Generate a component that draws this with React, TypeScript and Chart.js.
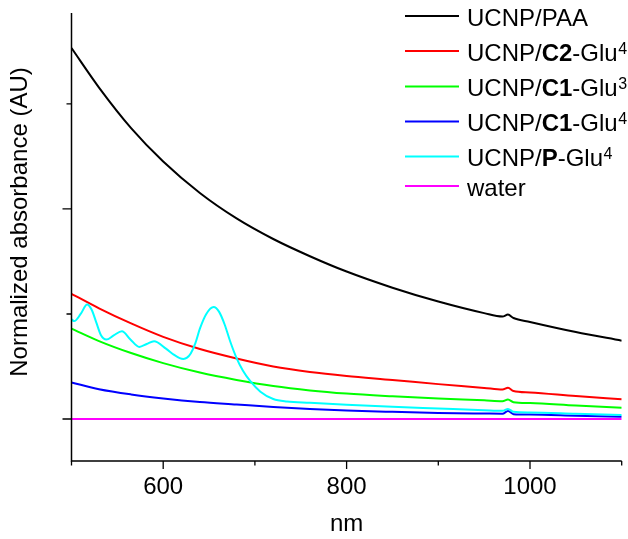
import React, { useEffect, useRef } from "react";
import { Chart, registerables } from "chart.js";

Chart.register(...registerables);

const FONT = '"Liberation Sans", Arial, Helvetica, sans-serif';

// ---- data ----
const smoothNm = [500, 530, 565, 600, 640, 680, 720, 760, 800, 850, 900, 950, 970, 976, 982, 1000, 1050, 1100];
const paaValues = [1.766, 1.578, 1.385, 1.226, 1.076, 0.955, 0.857, 0.775, 0.702, 0.625, 0.559, 0.504, 0.488, 0.497, 0.481, 0.462, 0.414, 0.373];
const c2Glu4Values = [0.596, 0.527, 0.455, 0.391, 0.333, 0.288, 0.25, 0.224, 0.205, 0.186, 0.166, 0.148, 0.14, 0.149, 0.133, 0.126, 0.109, 0.094];
const c1Glu3Values = [0.43, 0.371, 0.314, 0.266, 0.221, 0.186, 0.157, 0.136, 0.121, 0.108, 0.097, 0.089, 0.085, 0.093, 0.08, 0.076, 0.064, 0.054];
const c1Glu4Values = [0.174, 0.142, 0.117, 0.098, 0.081, 0.069, 0.057, 0.047, 0.04, 0.034, 0.029, 0.026, 0.025, 0.038, 0.023, 0.021, 0.016, 0.011];

const pGluNm = [500, 503, 510, 517, 522, 527, 532, 538, 546, 555, 564, 574, 582, 590, 603, 612, 618, 622, 626, 630, 635, 640, 647, 655, 661, 667, 673, 680, 687, 695, 706, 720, 735, 760, 800, 850, 900, 950, 970, 976, 982, 1000, 1050, 1100];
const pGluValues = [0.474, 0.466, 0.5, 0.545, 0.52, 0.46, 0.4, 0.378, 0.398, 0.418, 0.38, 0.343, 0.357, 0.37, 0.335, 0.305, 0.29, 0.286, 0.292, 0.312, 0.36, 0.43, 0.5, 0.533, 0.51, 0.45, 0.37, 0.29, 0.23, 0.18, 0.13, 0.095, 0.083, 0.077, 0.068, 0.058, 0.05, 0.042, 0.039, 0.048, 0.034, 0.031, 0.025, 0.019];

const waterNm = [500, 800, 1100];
const waterValues = [0, 0, 0];

const seriesNames = ["UCNP/PAA", "UCNP/C2-Glu4", "UCNP/C1-Glu3", "UCNP/C1-Glu4", "UCNP/P-Glu4", "water"];
const seriesColors = ["#000000", "#ff0000", "#00ff00", "#0000ff", "#00ffff", "#ff00ff"];

// rich legend labels: [text, style] where style: "n" normal, "b" bold, "s" superscript
const legendRich: [string, string][][] = [
  [["UCNP/PAA", "n"]],
  [["UCNP/", "n"], ["C2", "b"], ["-Glu", "n"], ["4", "s"]],
  [["UCNP/", "n"], ["C1", "b"], ["-Glu", "n"], ["3", "s"]],
  [["UCNP/", "n"], ["C1", "b"], ["-Glu", "n"], ["4", "s"]],
  [["UCNP/", "n"], ["P", "b"], ["-Glu", "n"], ["4", "s"]],
  [["water", "n"]],
];

const xLabelTicks = [600, 800, 1000];
const xMajorTicks = [600, 800, 1000];
const xMinorTicks = [500, 700, 900, 1100];
const yMajorTicks = [0, 1];
const yMinorTicks = [0.5, 1.5];

const xTitle = "nm";
const yTitle = "Normalized absorbance (AU)";

function pts(xs: number[], ys: number[]) {
  return xs.map((x, i) => ({ x, y: ys[i] }));
}

const framePlugin = {
  id: "frame",
  afterDraw(chart: any) {
    const ctx = chart.ctx as CanvasRenderingContext2D;
    const { left, right, top, bottom } = chart.chartArea;
    const xs = chart.scales.x;
    const ys = chart.scales.y;
    ctx.save();
    ctx.strokeStyle = "#000";
    ctx.lineWidth = 1.5;
    ctx.beginPath();
    ctx.moveTo(left, top);
    ctx.lineTo(left, bottom);
    ctx.lineTo(right, bottom);
    ctx.stroke();
    ctx.lineWidth = 1.3;
    ctx.beginPath();
    xMajorTicks.forEach((v) => {
      const p = xs.getPixelForValue(v);
      ctx.moveTo(p, bottom);
      ctx.lineTo(p, bottom + 8);
    });
    xMinorTicks.forEach((v) => {
      const p = xs.getPixelForValue(v);
      ctx.moveTo(p, bottom);
      ctx.lineTo(p, bottom + 4.5);
    });
    yMajorTicks.forEach((v) => {
      const p = ys.getPixelForValue(v);
      ctx.moveTo(left, p);
      ctx.lineTo(left - 9, p);
    });
    yMinorTicks.forEach((v) => {
      const p = ys.getPixelForValue(v);
      ctx.moveTo(left, p);
      ctx.lineTo(left - 5, p);
    });
    ctx.stroke();

    // y title
    ctx.fillStyle = "#000";
    ctx.font = `24px ${FONT}`;
    ctx.textAlign = "center";
    ctx.textBaseline = "middle";
    ctx.save();
    ctx.translate(20.7, 222);
    ctx.rotate(-Math.PI / 2);
    ctx.fillText(yTitle, 0, 0);
    ctx.restore();

    // legend
    const rowsY = [16, 51, 86.5, 121.5, 156.5, 186];
    ctx.textAlign = "left";
    ctx.textBaseline = "alphabetic";
    legendRich.forEach((segs, i) => {
      const y = rowsY[i];
      ctx.strokeStyle = seriesColors[i];
      ctx.lineWidth = 2;
      ctx.beginPath();
      ctx.moveTo(405, y);
      ctx.lineTo(459, y);
      ctx.stroke();
      let x = 467;
      const base = y + 9.5;
      segs.forEach(([t, st]) => {
        if (st === "s") {
          ctx.font = `16px ${FONT}`;
          ctx.fillText(t, x + 0.5, base - 7);
          x += ctx.measureText(t).width + 0.5;
        } else {
          ctx.font = st === "b" ? `bold 24px ${FONT}` : `24px ${FONT}`;
          ctx.fillText(t, x, base);
          x += ctx.measureText(t).width;
        }
      });
    });
    ctx.restore();
  },
};

export default function App() {
  const ref = useRef<HTMLCanvasElement | null>(null);
  useEffect(() => {
    document.body.style.margin = "0";
    const canvas = ref.current;
    if (!canvas) return;
    const allX = [smoothNm, smoothNm, smoothNm, smoothNm, pGluNm, waterNm];
    const allY = [paaValues, c2Glu4Values, c1Glu3Values, c1Glu4Values, pGluValues, waterValues];
    const datasets = seriesNames.map((name, i) => ({
      label: name,
      data: pts(allX[i], allY[i]),
      borderColor: seriesColors[i],
      backgroundColor: seriesColors[i],
      borderWidth: 2,
      pointRadius: 0,
      fill: false,
      cubicInterpolationMode: "monotone" as const,
      order: seriesNames.length - i,
    }));
    const chart = new Chart(canvas, {
      type: "line",
      data: { datasets },
      options: {
        animation: false,
        responsive: false,
        maintainAspectRatio: false,
        devicePixelRatio: 1,
        layout: { padding: { top: 13, right: 6.3, bottom: 0, left: 0 } },
        plugins: { legend: { display: false }, tooltip: { enabled: false } },
        scales: {
          x: {
            type: "linear",
            min: 500,
            max: 1100,
            afterBuildTicks: (s: any) => {
              s.ticks = xLabelTicks.map((v) => ({ value: v }));
            },
            afterFit: (s: any) => {
              s.height = 78;
            },
            ticks: {
              font: { family: FONT, size: 24 },
              color: "#000",
              padding: 12,
              maxRotation: 0,
              autoSkip: false,
              callback: (v: any) => String(v),
            },
            grid: { display: false, drawTicks: false },
            border: { display: false },
            title: {
              display: true,
              text: xTitle,
              color: "#000",
              font: { family: FONT, size: 24 },
              padding: { top: 0, bottom: 0 },
            },
          },
          y: {
            type: "linear",
            min: -0.2,
            max: 1.933,
            afterFit: (s: any) => {
              s.width = 71.5;
            },
            ticks: { display: false },
            grid: { display: false, drawTicks: false },
            border: { display: false },
          },
        },
      },
      plugins: [framePlugin],
    });
    return () => chart.destroy();
  }, []);
  return (
    <canvas
      ref={ref}
      width={628}
      height={539}
      style={{ position: "absolute", left: 0, top: 0, width: 628, height: 539 }}
    />
  );
}
